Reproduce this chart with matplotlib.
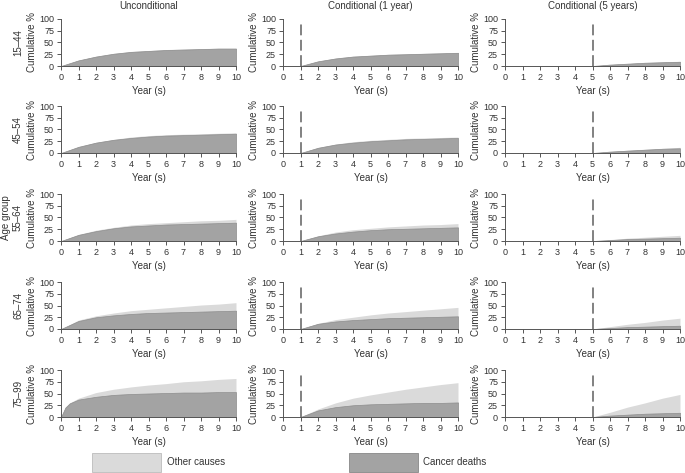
import numpy as np
import matplotlib.pyplot as plt
from matplotlib.patches import Rectangle

plt.rcParams['font.family'] = ['Liberation Sans', 'DejaVu Sans']

# Data / Данные (cumulative %, cancer deaths and total = cancer + other causes)
age_groups = ['15–44', '45–54', '55–64', '65–74', '75–99']
col_titles = ['Unconditional', 'Conditional (1 year)', 'Conditional (5 years)']
cond_start = [0, 1, 5]

years_uncond = [0, 1, 2, 3, 4, 5, 6, 7, 8, 9, 10]
years_uncond_old = [0, 0.25, 0.5, 1, 2, 3, 4, 5, 6, 7, 8, 9, 10]
years_c1 = [1, 2, 3, 4, 5, 6, 7, 8, 9, 10]
years_c5 = [5, 6, 7, 8, 9, 10]

cancer_uncond = [
    [0, 12, 20, 26, 30, 32, 34, 35, 36, 37, 37],
    [0, 13, 22, 28, 32, 35, 37, 38, 39, 40, 41],
    [0, 13, 21, 27, 31, 33, 35, 36, 37, 38, 39],
    [0, 17, 25, 29, 32, 34, 35, 36, 37, 38, 39],
    [0, 20, 29, 37, 43, 47, 49, 50, 51, 52, 52, 53, 53],
]
total_uncond = [
    [0, 12, 21, 27, 31, 33, 35, 36, 37, 38, 38],
    [0, 14, 23, 29, 34, 37, 39, 40, 41, 42, 43],
    [0, 14, 23, 29, 34, 37, 39, 41, 43, 44, 46],
    [0, 19, 28, 34, 39, 42, 45, 48, 51, 53, 56],
    [0, 21, 30, 40, 52, 59, 64, 68, 71, 75, 77, 80, 82],
]
cancer_c1 = [
    [0, 10, 16, 20, 22, 24, 25, 26, 27, 28],
    [0, 11, 18, 22, 25, 27, 29, 30, 31, 32],
    [0, 10, 16, 20, 23, 25, 26, 27, 28, 29],
    [0, 11, 16, 19, 21, 23, 24, 25, 26, 27],
    [0, 14, 21, 25, 27, 28, 29, 30, 30, 31],
]
total_c1 = [
    [0, 10, 17, 21, 23, 25, 26, 27, 28, 29],
    [0, 12, 19, 24, 27, 29, 31, 32, 33, 34],
    [0, 11, 19, 24, 27, 30, 32, 34, 35, 37],
    [0, 12, 20, 25, 30, 34, 37, 40, 43, 46],
    [0, 17, 30, 40, 47, 53, 59, 64, 69, 73],
]
cancer_c5 = [
    [0, 3, 5, 7, 8, 9],
    [0, 3, 5, 7, 9, 10],
    [0, 2, 4, 5, 6, 7],
    [0, 2, 4, 5, 6, 7],
    [0, 3, 5, 7, 8, 9],
]
total_c5 = [
    [0, 3, 5, 7, 9, 10],
    [0, 3, 6, 8, 10, 12],
    [0, 3, 6, 8, 10, 12],
    [0, 5, 10, 14, 19, 23],
    [0, 10, 21, 30, 40, 48],
]

other_color = '#dadada'
cancer_color = '#a3a3a3'
text_color = '#333333'

W, H = 685, 473
fig = plt.figure(figsize=(W / 100, H / 100), dpi=100)

col_left = [61, 283, 505]
row_top = [19, 106, 194, 282, 370]
ax_w, ax_h = 175, 47

for r in range(5):
    for c in range(3):
        ax = fig.add_axes([col_left[c] / W, 1 - (row_top[r] + ax_h) / H, ax_w / W, ax_h / H])
        if c == 0:
            xs = years_uncond_old if r == 4 else years_uncond
            can, tot = cancer_uncond[r], total_uncond[r]
        elif c == 1:
            xs, can, tot = years_c1, cancer_c1[r], total_c1[r]
        else:
            xs, can, tot = years_c5, cancer_c5[r], total_c5[r]
        ax.fill_between(xs, can, tot, color=other_color, lw=0)
        ax.fill_between(xs, 0, can, facecolor=cancer_color, edgecolor='#8a8a8a', lw=0.5)
        if cond_start[c] > 0:
            ax.plot([cond_start[c], cond_start[c]], [0, 95], color='#777777', lw=1.3,
                    dashes=(6, 2.5))
        ax.set_xlim(0, 10)
        ax.set_ylim(0, 100)
        ax.set_xticks(range(11))
        ax.set_yticks([0, 25, 50, 75, 100])
        for s in ['top', 'right']:
            ax.spines[s].set_visible(False)
        for s in ['left', 'bottom']:
            ax.spines[s].set_color('#555555')
            ax.spines[s].set_linewidth(0.7)
        ax.tick_params(labelsize=6.5, length=3, width=0.7, colors='#555555',
                       labelcolor=text_color, pad=2)
        ax.set_xlabel('Year (s)', fontsize=7, color=text_color, labelpad=3)
        ax.set_ylabel('Cumulative %', fontsize=7, color=text_color, labelpad=1.5)
        yc = 1 - (row_top[r] + ax_h / 2) / H
        if r == 0:
            fig.text((col_left[c] + ax_w / 2) / W, 1 - 6 / H, col_titles[c], fontsize=7,
                     color=text_color, ha='center', va='center')
        if c == 0:
            fig.text(18 / W, yc, age_groups[r], rotation=90, fontsize=7,
                     color=text_color, ha='center', va='center')
            if r == 2:
                fig.text(6 / W, yc, 'Age group', rotation=90, fontsize=7,
                         color=text_color, ha='center', va='center')

# Legend / Легенда
fig.patches.append(Rectangle((92 / W, 1 - 472 / H), 69 / W, 19 / H, transform=fig.transFigure,
                             facecolor=other_color, edgecolor='#bbbbbb', lw=0.6))
fig.text(167 / W, 1 - 462 / H, 'Other causes', fontsize=7, color=text_color, va='center')
fig.patches.append(Rectangle((349 / W, 1 - 472 / H), 69 / W, 19 / H, transform=fig.transFigure,
                             facecolor=cancer_color, edgecolor='#888888', lw=0.6))
fig.text(423 / W, 1 - 462 / H, 'Cancer deaths', fontsize=7, color=text_color, va='center')

fig.savefig('out.png', dpi=100)
